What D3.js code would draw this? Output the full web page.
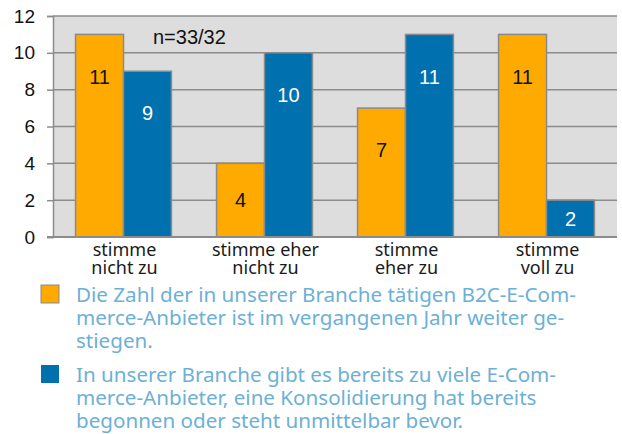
<!DOCTYPE html>
<html>
<head>
<meta charset="utf-8">
<script src="https://cdnjs.cloudflare.com/ajax/libs/d3/7.8.5/d3.min.js"></script>
<style>
  body { margin: 0; background: #fff; }
  .tick-label { font-family: "Liberation Sans", Arial, sans-serif; font-size: 19px; fill: #111; }
  .cat-label { font-family: "Noto Sans", sans-serif; font-size: 18px; fill: #1a1a1a; }
  .value-label { font-family: "Liberation Sans", Arial, sans-serif; font-size: 20px; }
  .legend-text { font-family: "Noto Sans", sans-serif; font-size: 20.6px; fill: #6cb0d6; }
</style>
</head>
<body>
<div id="chart"></div>
<script>
// Chart data
var categories = ["stimme\nnicht zu", "stimme eher\nnicht zu", "stimme\neher zu", "stimme\nvoll zu"];
var growthValues = [11, 4, 7, 11];
var tooManyValues = [9, 10, 11, 2];
var yTicks = [0, 2, 4, 6, 8, 10, 12];
var sampleNote = "n=33/32";
var seriesNames = [
    ["Die Zahl der in unserer Branche tätigen B2C-E-Com-", "merce-Anbieter ist im vergangenen Jahr weiter ge-", "stiegen."],
    ["In unserer Branche gibt es bereits zu viele E-Com-", "merce-Anbieter, eine Konsolidierung hat bereits", "begonnen oder steht unmittelbar bevor."]
];
var seriesColors = ["#ffaa00", "#0070ae"];
var labelColors = ["#111", "#fff"];

// Set up SVG
var svgWidth = 622;
var svgHeight = 434;

var margin = {
    top: 16,
    right: 5,
    bottom: 197,
    left: 53
};

var width = svgWidth - margin.left - margin.right;
var height = svgHeight - margin.top - margin.bottom;

var svg = d3.select("#chart").append("svg").attr("width", svgWidth).attr("height", svgHeight);

var chartGroup = svg.append("g").attr("transform", `translate(${margin.left}, ${margin.top})`);

var tableData = categories.map(function(c, i) {
    return { category: c, values: [growthValues[i], tooManyValues[i]] };
});

// scales
var x0 = d3.scaleBand()
    .domain(categories)
    .range([0, width])
    .paddingInner(0.32)
    .paddingOuter(0.16);

var x1 = d3.scaleBand()
    .domain([0, 1])
    .range([0, x0.bandwidth()]);

var yLinearScale = d3.scaleLinear()
    .domain([0, 12])
    .range([height, 0]);

// plot background
chartGroup.append("rect")
    .attr("x", 0)
    .attr("y", 0)
    .attr("width", width)
    .attr("height", height)
    .attr("fill", "#dddddd");

// gridlines
chartGroup.append("g")
    .selectAll("line")
    .data(yTicks)
    .enter()
    .append("line")
    .attr("x1", 0)
    .attr("x2", width)
    .attr("y1", d => yLinearScale(d))
    .attr("y2", d => yLinearScale(d))
    .attr("stroke", "#8c8c8c")
    .attr("stroke-width", 1.5);

// left axis
var leftAxis = d3.axisLeft(yLinearScale).tickValues(yTicks).tickSize(6).tickPadding(12);
var yAxis = chartGroup.append("g").call(leftAxis);
yAxis.select(".domain").attr("stroke", "#8c8c8c").attr("stroke-width", 1.5);
yAxis.selectAll(".tick line").attr("stroke", "#8c8c8c").attr("stroke-width", 1.5);
yAxis.selectAll(".tick text")
    .attr("class", "tick-label")
    .attr("fill", null)
    .style("font-size", "19px")
    .style("font-family", "'Liberation Sans', Arial, sans-serif");

// bars
var catGroups = chartGroup.selectAll(".cat")
    .data(tableData)
    .enter()
    .append("g")
    .attr("class", "cat")
    .attr("transform", d => `translate(${x0(d.category)}, 0)`);

catGroups.selectAll("rect")
    .data(d => d.values)
    .enter()
    .append("rect")
    .attr("x", (d, i) => x1(i))
    .attr("y", d => yLinearScale(d))
    .attr("width", x1.bandwidth())
    .attr("height", d => height - yLinearScale(d))
    .attr("fill", (d, i) => seriesColors[i])
    .attr("stroke", "#8a8a8a")
    .attr("stroke-width", 1.5);

// value labels inside bars
catGroups.selectAll(".value-label")
    .data(d => d.values)
    .enter()
    .append("text")
    .attr("class", "value-label")
    .attr("x", (d, i) => x1(i) + x1.bandwidth() / 2)
    .attr("y", d => yLinearScale(d) + Math.min(42, (height - yLinearScale(d)) / 2))
    .attr("dy", "0.36em")
    .attr("text-anchor", "middle")
    .attr("fill", (d, i) => labelColors[i])
    .text(d => d);

// x axis baseline
chartGroup.append("line")
    .attr("x1", -6)
    .attr("x2", width)
    .attr("y1", height)
    .attr("y2", height)
    .attr("stroke", "#8c8c8c")
    .attr("stroke-width", 2);

// category labels
var catText = chartGroup.selectAll(".cat-label")
    .data(categories)
    .enter()
    .append("text")
    .attr("class", "cat-label")
    .attr("text-anchor", "middle")
    .attr("transform", d => `translate(${x0(d) + x0.bandwidth() / 2 + 1}, ${height + 19})`);

catText.selectAll("tspan")
    .data(d => d.split("\n"))
    .enter()
    .append("tspan")
    .attr("x", 0)
    .attr("y", (d, i) => i * 18)
    .text(d => d);

// sample note
chartGroup.append("text")
    .attr("x", x0(categories[0]) + x0.bandwidth() + 18)
    .attr("y", yLinearScale(12) + 21)
    .attr("dy", "0.36em")
    .attr("text-anchor", "middle")
    .attr("class", "value-label")
    .attr("fill", "#111")
    .text(sampleNote);

// legend
var legendGroup = svg.append("g").attr("transform", "translate(41, 285)");

var legendItems = legendGroup.selectAll(".legend-item")
    .data(seriesNames)
    .enter()
    .append("g")
    .attr("class", "legend-item")
    .attr("transform", (d, i) => `translate(0, ${i * 80})`);

legendItems.append("rect")
    .attr("x", 0)
    .attr("y", 0)
    .attr("width", 18)
    .attr("height", 18)
    .attr("fill", (d, i) => seriesColors[i])
    .attr("stroke", (d, i) => i === 0 ? "#8a8a8a" : "none")
    .attr("stroke-width", 1);

legendItems.append("text")
    .attr("class", "legend-text")
    .selectAll("tspan")
    .data(d => d)
    .enter()
    .append("tspan")
    .attr("x", 35)
    .attr("y", (d, i) => 17 + i * 23)
    .text(d => d);
</script>
</body>
</html>
